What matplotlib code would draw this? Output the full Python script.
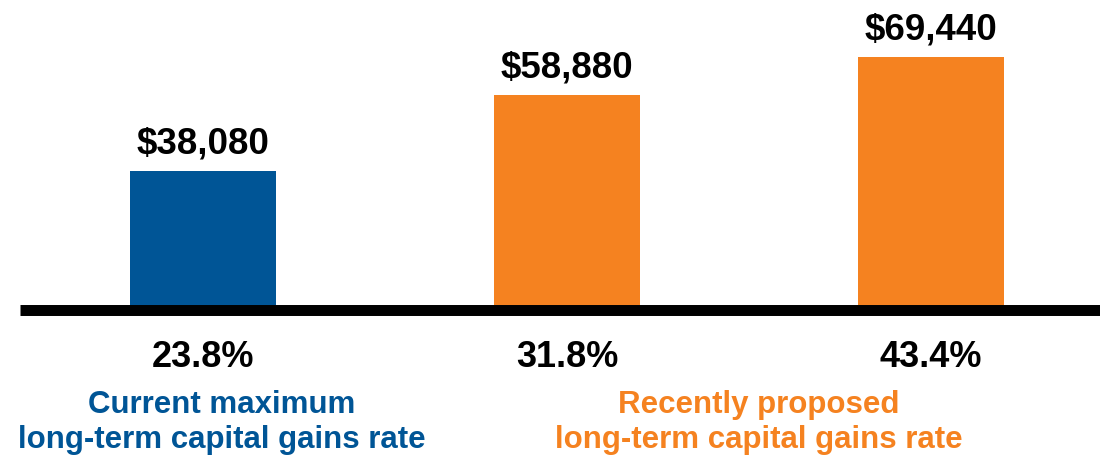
import matplotlib
matplotlib.use("Agg")
import matplotlib.pyplot as plt
from matplotlib.transforms import blended_transform_factory

# tax owed on a capital gain under current vs proposed rates
rates = ["23.8%", "31.8%", "43.4%"]
tax_owed = [38080, 58880, 69440]
captions = [("Current maximum", "long-term capital gains rate"),
            ("Recently proposed", "long-term capital gains rate")]

BLUE = "#005596"
ORANGE = "#F58220"
bar_colors = [BLUE, ORANGE, ORANGE]

plt.rcParams["font.family"] = ["Liberation Sans", "DejaVu Sans"]
plt.rcParams["font.weight"] = "bold"

W, H = 1100, 456
fig = plt.figure(figsize=(W / 100, H / 100), dpi=100)
base_px = 310.5
ax = fig.add_axes([0, (H - base_px) / H, 1, base_px / H])
ax.set_axis_off()

x = list(range(len(tax_owed)))
ax.bar(x, tax_owed, width=0.401, color=bar_colors, zorder=2)
ax.set_xlim(-203 / 364, (W - 203) / 364)
ax.set_ylim(0, base_px / 0.003637)

# thick baseline
ax.axhline(0, xmin=20 / W, xmax=1, color="black", linewidth=7.9, zorder=3,
           solid_capstyle="butt", clip_on=False)

for xi, v in zip(x, tax_owed):
    ax.annotate(f"${v:,}", (xi, v), xytext=(0, 13.5), textcoords="offset points",
                ha="center", va="baseline", fontsize=26.5, fontweight="bold")

tr = blended_transform_factory(ax.transData, fig.transFigure)
for xi, r in zip(x, rates):
    ax.text(xi, 1 - 367 / H, r, transform=tr, ha="center", va="baseline",
            fontsize=26, fontweight="bold", clip_on=False)

cap_x = [(222 - 203) / 364, (759 - 203) / 364]
for cx, (l1, l2), col in zip(cap_x, captions, [BLUE, ORANGE]):
    for line, ybase in ((l1, 413), (l2, 448)):
        ax.text(cx, 1 - ybase / H, line, transform=tr, ha="center",
                va="baseline", fontsize=22.5, fontweight="bold", color=col,
                clip_on=False)

fig.savefig("out.png", dpi=100)
